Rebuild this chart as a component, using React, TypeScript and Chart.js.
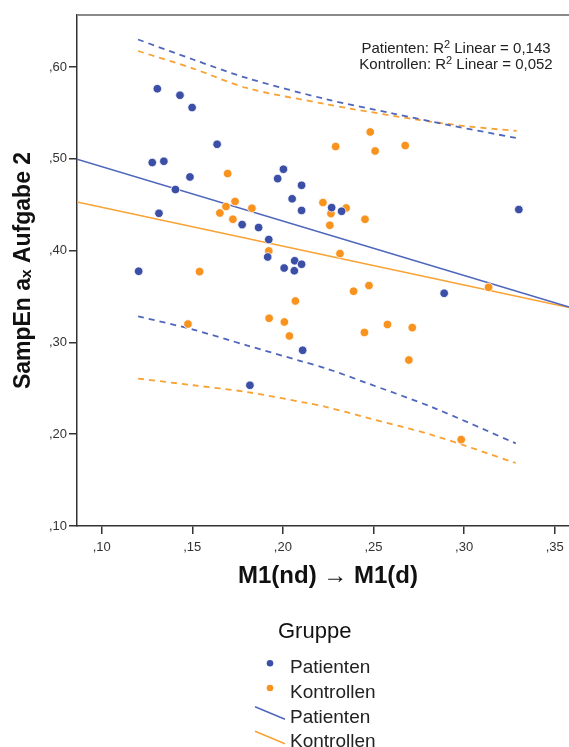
import React, { useEffect, useRef } from 'react';
import { Chart, registerables } from 'chart.js';

Chart.register(...registerables);

// ---------- data ----------
const groups = ['Patienten', 'Kontrollen'];

const patientenX = [0.1204, 0.1307, 0.1432, 0.1499, 0.1637, 0.1279, 0.1343, 0.1487, 0.1407, 0.1316, 0.1971, 0.2003, 0.2103, 0.2051, 0.2103, 0.1775, 0.1866, 0.1922, 0.1916, 0.2007, 0.2065, 0.2103, 0.2063, 0.2269, 0.2324, 0.3302, 0.2890, 0.2109, 0.1818];
const patientenY = [0.3775, 0.5763, 0.5692, 0.5558, 0.5158, 0.4959, 0.4973, 0.4802, 0.4665, 0.4406, 0.4784, 0.4886, 0.4711, 0.4564, 0.4437, 0.4283, 0.4251, 0.4120, 0.3930, 0.3810, 0.3889, 0.3851, 0.3780, 0.4468, 0.4428, 0.4447, 0.3535, 0.2914, 0.2533];

const kontrollenX = [0.1695, 0.1736, 0.1686, 0.1652, 0.1724, 0.1829, 0.1922, 0.1540, 0.2221, 0.2265, 0.2259, 0.2349, 0.2453, 0.2315, 0.2482, 0.2291, 0.2509, 0.2675, 0.3135, 0.2390, 0.2475, 0.2069, 0.1924, 0.2008, 0.2036, 0.2450, 0.2577, 0.2714, 0.1476, 0.2695, 0.2984];
const kontrollenY = [0.4839, 0.4535, 0.4480, 0.4409, 0.4341, 0.4461, 0.3996, 0.3771, 0.4523, 0.4403, 0.4276, 0.4464, 0.4341, 0.3967, 0.5292, 0.5133, 0.5085, 0.5144, 0.3600, 0.3557, 0.3619, 0.3451, 0.3263, 0.3222, 0.3070, 0.3108, 0.3195, 0.3161, 0.3200, 0.2808, 0.1941];

// linear fit lines (visible endpoints)
const fitX = [0.0864, 0.3579];
const patientenFitY = [0.4995, 0.3386];
const kontrollenFitY = [0.4529, 0.3379];

// confidence bands (dashed)
const patUpperX = [0.1201, 0.1505, 0.1800, 0.2241, 0.2609, 0.2922, 0.3290];
const patUpperY = [0.6299, 0.6081, 0.5880, 0.5648, 0.5492, 0.5365, 0.5225];
const konUpperX = [0.1201, 0.1505, 0.1800, 0.2241, 0.2370, 0.2738, 0.3014, 0.3290];
const konUpperY = [0.6174, 0.5983, 0.5771, 0.5594, 0.5547, 0.5427, 0.5354, 0.5303];
const patLowerX = [0.1201, 0.1505, 0.1800, 0.2103, 0.2241, 0.2462, 0.2829, 0.3285];
const patLowerY = [0.3284, 0.3139, 0.2968, 0.2794, 0.2715, 0.2558, 0.2290, 0.1900];
const konLowerX = [0.1201, 0.1505, 0.1800, 0.2131, 0.2241, 0.2462, 0.2829, 0.3285];
const konLowerY = [0.2606, 0.2533, 0.2460, 0.2340, 0.2296, 0.2181, 0.1988, 0.1686];

const xTicks = [0.10, 0.15, 0.20, 0.25, 0.30, 0.35];
const yTicks = [0.10, 0.20, 0.30, 0.40, 0.50, 0.60];
const r2Values = ['0,143', '0,052'];

const xTitle = 'M1(nd) \u2192 M1(d)';
const yTitle = 'SampEn a\u2093 Aufgabe 2';
const legendTitle = 'Gruppe';

// ---------- styles ----------
const FONT = '"Liberation Sans", Arial, Helvetica, sans-serif';
const BLUE = '#3B4FA6';
const ORANGE = '#F7931E';
const BLUE_LINE = '#4F66BC';
const ORANGE_LINE = '#F9A234';
const AXIS = '#333333';

const pts = (xs: number[], ys: number[]) => xs.map((x, i) => ({ x, y: ys[i] }));
const fmt = (v: any) => ',' + String(Math.round(Number(v) * 100)).padStart(2, '0');

const decorPlugin = {
  id: 'decor',
  afterDraw(chart: any) {
    const { ctx, chartArea } = chart;
    ctx.save();
    // top frame line
    ctx.strokeStyle = '#8a8a8a';
    ctx.lineWidth = 2;
    ctx.beginPath();
    ctx.moveTo(chartArea.left, chartArea.top);
    ctx.lineTo(chartArea.right, chartArea.top);
    ctx.stroke();

    // R² annotation
    const cx = chartArea.right - 123;
    const baselines = [chartArea.top + 37.5, chartArea.top + 53.5];
    ctx.fillStyle = '#222';
    ctx.textBaseline = 'alphabetic';
    groups.forEach((g, i) => {
      const a = g + ': R';
      const s = '2';
      const b = ' Linear = ' + r2Values[i];
      ctx.font = '15px ' + FONT;
      const wa = ctx.measureText(a).width;
      const wb = ctx.measureText(b).width;
      ctx.font = '11px ' + FONT;
      const ws = ctx.measureText(s).width;
      const total = wa + ws + wb;
      let x = cx - total / 2;
      ctx.textAlign = 'left';
      ctx.font = '15px ' + FONT;
      ctx.fillText(a, x, baselines[i]);
      x += wa;
      ctx.font = '11px ' + FONT;
      ctx.fillText(s, x, baselines[i] - 5);
      x += ws;
      ctx.font = '15px ' + FONT;
      ctx.fillText(b, x, baselines[i]);
    });

    // legend
    ctx.fillStyle = '#111';
    ctx.textAlign = 'center';
    ctx.font = '22px ' + FONT;
    ctx.fillText(legendTitle, 314.7, 638);

    const rows = [673.3, 698, 722.7, 747.3];
    const markerX = 270;
    const textX = 290;
    ctx.textAlign = 'left';
    ctx.font = '19px ' + FONT;
    // point entries
    [BLUE, ORANGE].forEach((c, i) => {
      const b = rows[i];
      ctx.fillStyle = c;
      ctx.beginPath();
      ctx.arc(markerX, b - 10, 3.3, 0, Math.PI * 2);
      ctx.fill();
      ctx.fillStyle = '#222';
      ctx.fillText(groups[i], textX, b);
    });
    // line entries
    [BLUE_LINE, ORANGE_LINE].forEach((c, i) => {
      const b = rows[i + 2];
      ctx.strokeStyle = c;
      ctx.lineWidth = 1.5;
      ctx.beginPath();
      ctx.moveTo(255, b - 16);
      ctx.lineTo(285, b - 3.5);
      ctx.stroke();
      ctx.fillStyle = '#222';
      ctx.fillText(groups[i], textX, b);
    });
    ctx.restore();
  },
};

export default function App() {
  const ref = useRef<HTMLCanvasElement | null>(null);

  useEffect(() => {
    if (!ref.current) return;
    const dotDs = (label: string, xs: number[], ys: number[], color: string) => ({
      type: 'scatter' as const,
      label,
      data: pts(xs, ys),
      backgroundColor: color,
      borderColor: '#ffffff',
      borderWidth: 0.8,
      pointRadius: 4.3,
      pointHoverRadius: 4.3,
    });
    const lineDs = (label: string, xs: number[], ys: number[], color: string, dashed: boolean) => ({
      type: 'line' as const,
      label,
      data: pts(xs, ys),
      borderColor: color,
      backgroundColor: color,
      borderWidth: dashed ? 1.8 : 1.5,
      borderDash: dashed ? [6, 5] : [],
      pointRadius: 0,
      fill: false,
      tension: dashed ? 0.3 : 0,
    });

    const chart = new Chart(ref.current, {
      type: 'scatter',
      data: {
        datasets: [
          dotDs(groups[0], patientenX, patientenY, BLUE),
          dotDs(groups[1], kontrollenX, kontrollenY, ORANGE),
          lineDs(groups[0] + ' Linear', fitX, patientenFitY, BLUE_LINE, false),
          lineDs(groups[1] + ' Linear', fitX, kontrollenFitY, ORANGE_LINE, false),
          lineDs(groups[0] + ' upper', patUpperX, patUpperY, BLUE_LINE, true),
          lineDs(groups[1] + ' upper', konUpperX, konUpperY, ORANGE_LINE, true),
          lineDs(groups[0] + ' lower', patLowerX, patLowerY, BLUE_LINE, true),
          lineDs(groups[1] + ' lower', konLowerX, konLowerY, ORANGE_LINE, true),
        ] as any,
      },
      options: {
        responsive: false,
        animation: false,
        events: [],
        layout: { padding: { top: 15, left: 0, right: 0, bottom: 0 }, autoPadding: false },
        plugins: {
          legend: { display: false },
          tooltip: { enabled: false },
        },
        scales: {
          x: {
            type: 'linear',
            min: 0.08637,
            max: 0.36341,
            afterBuildTicks: (s: any) => {
              s.ticks = xTicks.map((v) => ({ value: v }));
            },
            afterFit: (s: any) => {
              s.height = 221;
            },
            grid: { drawOnChartArea: false, drawTicks: true, tickLength: 8, color: AXIS, lineWidth: 1.5 },
            border: { display: true, color: AXIS, width: 1.5 },
            ticks: {
              callback: fmt,
              font: { family: FONT, size: 13 },
              color: '#333',
              padding: 6,
              maxRotation: 0,
              autoSkip: false,
            },
            title: {
              display: true,
              text: xTitle,
              font: { family: FONT, size: 24, weight: 'bold' },
              color: '#111',
              padding: { top: 0, bottom: 156 },
            },
          },
          y: {
            type: 'linear',
            min: 0.10,
            max: 0.6566,
            afterBuildTicks: (s: any) => {
              s.ticks = yTicks.map((v) => ({ value: v }));
            },
            afterFit: (s: any) => {
              s.width = 77;
            },
            grid: { drawOnChartArea: false, drawTicks: true, tickLength: 8, color: AXIS, lineWidth: 1.5 },
            border: { display: true, color: AXIS, width: 1.5 },
            ticks: {
              callback: fmt,
              font: { family: FONT, size: 13 },
              color: '#333',
              padding: 2,
              autoSkip: false,
            },
            title: {
              display: true,
              text: yTitle,
              font: { family: FONT, size: 23, weight: 'bold' },
              color: '#111',
              padding: { top: 10, bottom: 0 },
            },
          },
        },
      } as any,
      plugins: [decorPlugin],
    });
    return () => chart.destroy();
  }, []);

  return (
    <div
      style={{
        position: 'absolute',
        left: 0,
        top: 0,
        width: 569,
        height: 747,
        overflow: 'hidden',
        background: '#ffffff',
      }}
    >
      <canvas ref={ref} width={579} height={747} style={{ display: 'block', width: 579, height: 747 }} />
    </div>
  );
}
